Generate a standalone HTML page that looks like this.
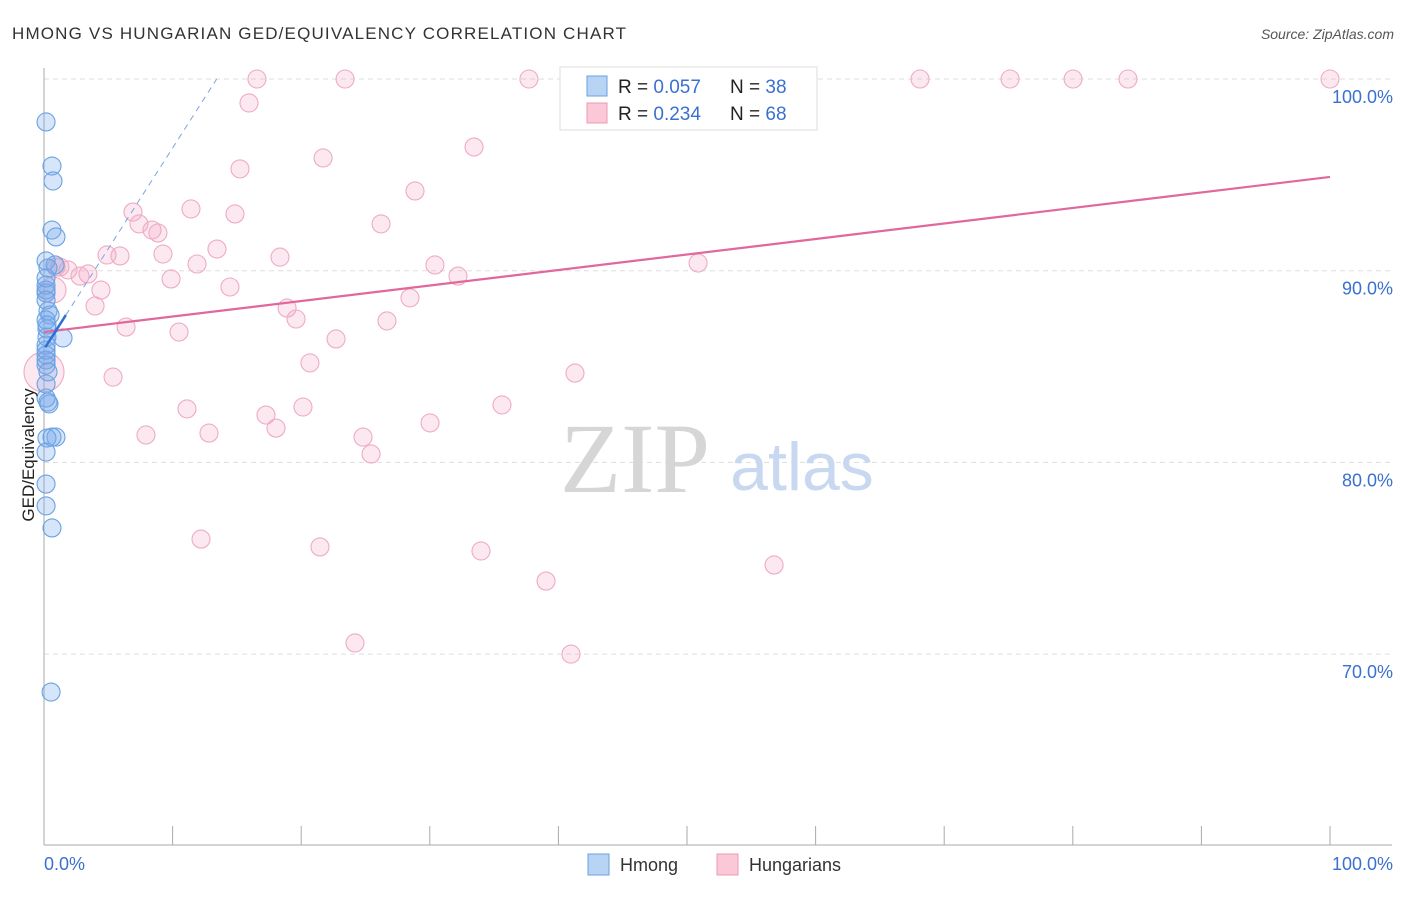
<!DOCTYPE html>
<html><head><meta charset="utf-8"><style>
body{margin:0;background:#fff;font-family:"Liberation Sans",sans-serif}
</style></head><body>
<svg id="chart" width="1406" height="892" font-family="Liberation Sans, sans-serif">
<text x="12" y="39" font-size="17" fill="#333" textLength="614" lengthAdjust="spacing">HMONG VS HUNGARIAN GED/EQUIVALENCY CORRELATION CHART</text>
<text x="1394" y="39" font-size="14" fill="#555" font-style="italic" text-anchor="end">Source: ZipAtlas.com</text>
<g id="grid"></g>
<text x="635" y="492" font-size="100" fill="#d6d6d6" style="font-family:'Liberation Serif',serif" text-anchor="middle">ZIP</text>
<text x="802" y="490" font-size="68" fill="#c8d8f0" text-anchor="middle">atlas</text>
<g id="pts"></g>
<g id="lines"></g>
<text transform="translate(34,455) rotate(-90)" font-size="17" fill="#222" text-anchor="middle">GED/Equivalency</text>
<g>
<rect x="560" y="67" width="257" height="63" fill="#fff" stroke="#ddd"/>
<rect x="587" y="76" width="20" height="20" fill="#b8d4f5" stroke="#6aa0e0"/>
<rect x="587" y="103" width="20" height="20" fill="#fbc8d8" stroke="#ec9ab5"/>
<text x="618" y="93" font-size="19" fill="#222">R = <tspan fill="#3a70d0">0.057</tspan></text>
<text x="730" y="93" font-size="19" fill="#222">N = <tspan fill="#3a70d0">38</tspan></text>
<text x="618" y="120" font-size="19" fill="#222">R = <tspan fill="#3a70d0">0.234</tspan></text>
<text x="730" y="120" font-size="19" fill="#222">N = <tspan fill="#3a70d0">68</tspan></text>
</g>
<g>
<rect x="588" y="854" width="21" height="21" fill="#b8d4f5" stroke="#6aa0e0"/>
<text x="620" y="871" font-size="18" fill="#333">Hmong</text>
<rect x="717" y="854" width="21" height="21" fill="#fbc8d8" stroke="#ec9ab5"/>
<text x="749" y="871" font-size="18" fill="#333">Hungarians</text>
</g>
</svg>
<script>
const yTicks=[100,90,80,70];
const yTickLabels=["100.0%","90.0%","80.0%","70.0%"];
const xTickLabels=["0.0%","100.0%"];
const hmongX=[0.16,0.62,0.7,0.62,0.93,0.16,0.86,0.16,0.16,0.31,0.47,0.23,0.23,1.48,0.16,0.16,0.16,0.16,0.31,0.39,0.93,0.23,0.16,0.16,0.16,0.62,0.55,0.16,0.16,0.16,0.31,0.16,0.23,0.16,0.62,0.16,0.16,0.31];
const hmongY=[97.76,95.46,94.68,92.12,91.76,90.51,90.30,89.25,88.84,87.90,87.69,86.96,86.54,86.49,86.12,85.60,85.08,84.09,83.15,83.05,81.32,81.27,80.54,78.87,77.73,76.58,68.02,88.99,87.43,85.34,90.14,88.47,87.17,83.36,81.32,89.62,85.86,84.72];
const hunX=[0,0.7,1.24,1.87,2.8,3.42,3.97,4.43,4.9,5.91,5.37,6.38,6.92,7.39,7.93,8.4,8.86,9.25,9.88,10.5,11.12,11.43,11.9,12.21,12.83,13.45,14.46,14.85,15.24,15.94,16.56,17.26,18.04,18.35,18.9,19.6,20.14,20.68,21.46,21.7,22.71,23.41,24.18,24.81,25.43,26.21,26.67,28.46,28.85,30.02,30.4,32.19,33.44,33.98,35.61,37.71,39.04,40.98,41.29,50.86,53.89,56.77,68.12,75.12,80.02,84.29,100,0.93];
const hunY=[84.72,88.99,90.19,90.04,89.72,89.83,88.16,88.99,90.82,90.77,84.45,87.06,93.06,92.44,81.43,92.12,91.97,90.87,89.57,86.8,82.79,93.22,90.35,76.0,81.53,91.13,89.15,92.96,95.31,98.75,100,82.47,81.79,90.71,88.05,87.48,82.89,85.19,75.59,95.88,86.44,100,70.58,81.32,80.44,92.44,87.38,88.58,94.16,82.06,90.3,89.72,96.45,75.38,83.0,100,73.81,70.0,84.66,90.4,100,74.65,100,100,100,100,100,90.19];
const hunTrend=[86.8,94.89];
const hmongTrend=[85.9,1.05];
const NS="http://www.w3.org/2000/svg";
const X=v=>44+v*12.86, Y=v=>79+(100-v)*19.17;
function mk(t,a,p){const e=document.createElementNS(NS,t);for(const k in a)e.setAttribute(k,a[k]);p.appendChild(e);return e;}
const grid=document.getElementById('grid');
yTicks.forEach((t,i)=>{
 const l=mk('line',{x1:44,x2:1392,y1:Y(t),y2:Y(t),stroke:'#ddd','stroke-dasharray':'5,4'},grid);
 
 
 const tx=mk('text',{x:1393,y:Y(t)+24,'font-size':18,fill:'#3a70d0','text-anchor':'end'},grid);
 tx.textContent=yTickLabels[i];
 
 
});
const ax=mk('line',{x1:44,x2:44,y1:68,y2:845,stroke:'#aaa'},grid);


const bx=mk('line',{x1:44,x2:1392,y1:845,y2:845,stroke:'#aaa'},grid);


for(let i=0;i<=10;i++){
 const t=mk('line',{x1:X(i*10),x2:X(i*10),y1:826,y2:845,stroke:'#aaa'},grid);
 
 
}
[[0,'start',44],[1,'end',1393]].forEach(([i,a,x])=>{
 const t=mk('text',{x:x,y:870,'font-size':18,fill:'#3a70d0','text-anchor':a},grid);
 t.textContent=xTickLabels[i];
 
 
});
const pts=document.getElementById('pts');
hunX.forEach((x,i)=>{
 const r=i===0?20:(i===1?13:9);
 const c=mk('circle',{cx:X(x),cy:Y(hunY[i]),r:r,fill:'rgba(245,165,195,0.25)',stroke:'#efabc2','stroke-width':1.1},pts);
 
 
});
hmongX.forEach((x,i)=>{
 const c=mk('circle',{cx:X(x),cy:Y(hmongY[i]),r:9,fill:'rgba(120,170,235,0.3)',stroke:'#6aa2e2','stroke-width':1.1},pts);
 
 
});
const lines=document.getElementById('lines');
const pl=mk('line',{x1:X(0),y1:Y(hunTrend[0]),x2:X(100),y2:Y(hunTrend[1]),stroke:'#e0689a','stroke-width':2.2},lines);


const xe=(100-hmongTrend[0])/hmongTrend[1];
const dl=mk('line',{x1:X(1.7),y1:Y(hmongTrend[0]+hmongTrend[1]*1.7),x2:X(xe),y2:Y(100),stroke:'#7aa5e0','stroke-width':1,'stroke-dasharray':'6,5'},lines);


const bl=mk('line',{x1:X(0.1),y1:Y(hmongTrend[0]+hmongTrend[1]*0.1),x2:X(1.7),y2:Y(hmongTrend[0]+hmongTrend[1]*1.7),stroke:'#2f6fd6','stroke-width':2.5},lines);


</script>
</body></html>
